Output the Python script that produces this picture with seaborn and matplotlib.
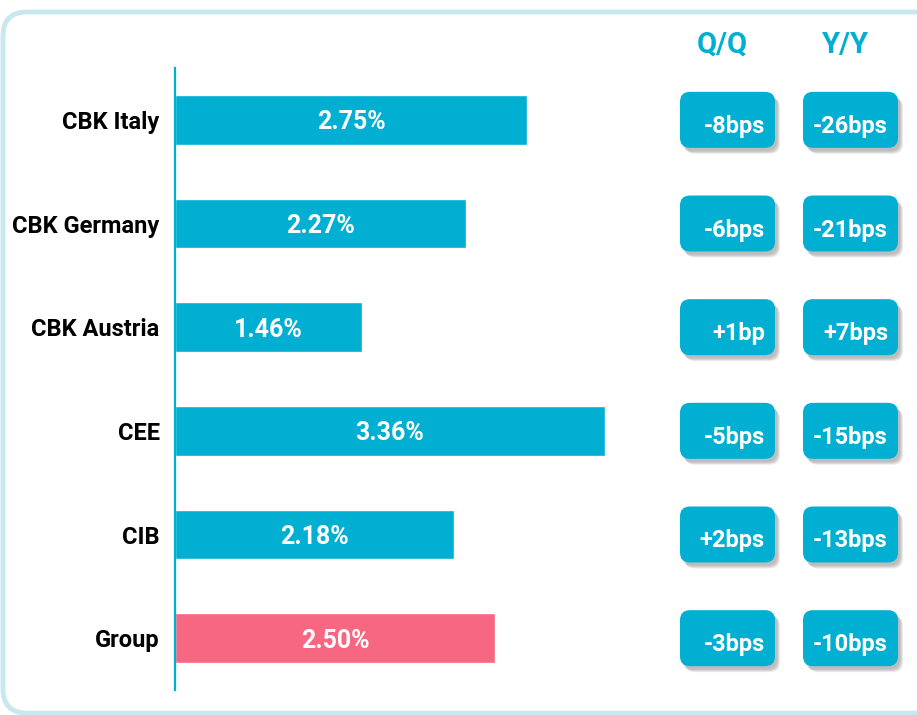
import numpy as np
import pandas as pd
import matplotlib
matplotlib.use('Agg')
import matplotlib.pyplot as plt
from matplotlib.patches import FancyBboxPatch
import seaborn as sns

# data
categories = ['CBK Italy', 'CBK Germany', 'CBK Austria', 'CEE', 'CIB', 'Group']
margin_pct = [2.75, 2.27, 1.46, 3.36, 2.18, 2.50]
qq_bps = [-8, -6, 1, -5, 2, -3]
yy_bps = [-26, -21, 7, -15, -13, -10]
col_headers = ['Q/Q', 'Y/Y']

BLUE = '#00AFD1'
PINK = '#F76782'
FONT = 'Roboto'

W, H = 917, 715

sns.set_theme(style='white')
plt.rcParams['font.family'] = [FONT, 'DejaVu Sans']


def fmt_bps(v):
    unit = 'bp' if abs(v) == 1 else 'bps'
    return '{:+d}{}'.format(v, unit)


df = pd.DataFrame({'segment': categories, 'margin': margin_pct})
palette = {c: (PINK if c == 'Group' else BLUE) for c in categories}

fig = plt.figure(figsize=(W / 100, H / 100), dpi=100)

# background overlay in pixel units for frame and boxes
bg = fig.add_axes([0, 0, 1, 1], zorder=0)
bg.set_xlim(0, W)
bg.set_ylim(H, 0)
bg.axis('off')

frame = FancyBboxPatch((3, 12), W + 40, H - 14,
                       boxstyle='round,pad=0,rounding_size=24',
                       fc='white', ec='#C8E7EF', lw=3.5)
bg.add_patch(frame)

# bar axes
ax = fig.add_axes([175 / W, 25 / H, 485 / W, 622 / H], zorder=1)
ax.patch.set_alpha(0)
sns.barplot(data=df, x='margin', y='segment', hue='segment', palette=palette,
            orient='h', width=0.48, legend=False, saturation=1, ax=ax)
ax.set_xlim(0, 485 / 128)
ax.set_xlabel('')
ax.set_ylabel('')
ax.set_xticks([])
for s in ['top', 'right', 'bottom']:
    ax.spines[s].set_visible(False)
ax.spines['left'].set_color(BLUE)
ax.spines['left'].set_linewidth(1.6)
ax.tick_params(axis='y', length=0, pad=11)
for lab in ax.get_yticklabels():
    lab.set_fontsize(17)
    lab.set_fontweight('bold')
    lab.set_color('black')
    lab.set_va('center_baseline')

for cont in ax.containers:
    vals = [b.get_width() for b in cont]
    anns = ax.bar_label(cont, labels=['{:.2f}%'.format(v) for v in vals], label_type='center',
                        color='white', fontsize=18, fontweight='bold')
    for a in anns:
        a.set_va('center_baseline')

# change boxes on the right
box_x = [680, 803]
box_w, box_h = 95, 56
for j, (x0, head) in enumerate(zip(box_x, col_headers)):
    bg.text(x0 + box_w / 2 - 5, 45, head, ha='center', va='center', color=BLUE,
            fontsize=21, fontweight='bold')

for i in range(len(categories)):
    yc = bg.transData.inverted().transform(ax.transData.transform((0, i)))[1]
    for j, vals in enumerate([qq_bps, yy_bps]):
        x0 = box_x[j]
        y0 = yc - box_h / 2
        for k, a in enumerate([0.08, 0.10, 0.12, 0.10]):
            sh = FancyBboxPatch((x0 + 2 + k, y0 + 3 + k), box_w, box_h,
                                boxstyle='round,pad=0,rounding_size=10',
                                fc='#444444', ec='none', alpha=a)
            bg.add_patch(sh)
        box = FancyBboxPatch((x0, y0), box_w, box_h,
                             boxstyle='round,pad=0,rounding_size=10',
                             fc=BLUE, ec='none')
        bg.add_patch(box)
        bg.text(x0 + box_w - 10, yc + 4, fmt_bps(vals[i]), ha='right', va='center_baseline',
                color='white', fontsize=17, fontweight='bold')

fig.savefig('out.png', dpi=100)
